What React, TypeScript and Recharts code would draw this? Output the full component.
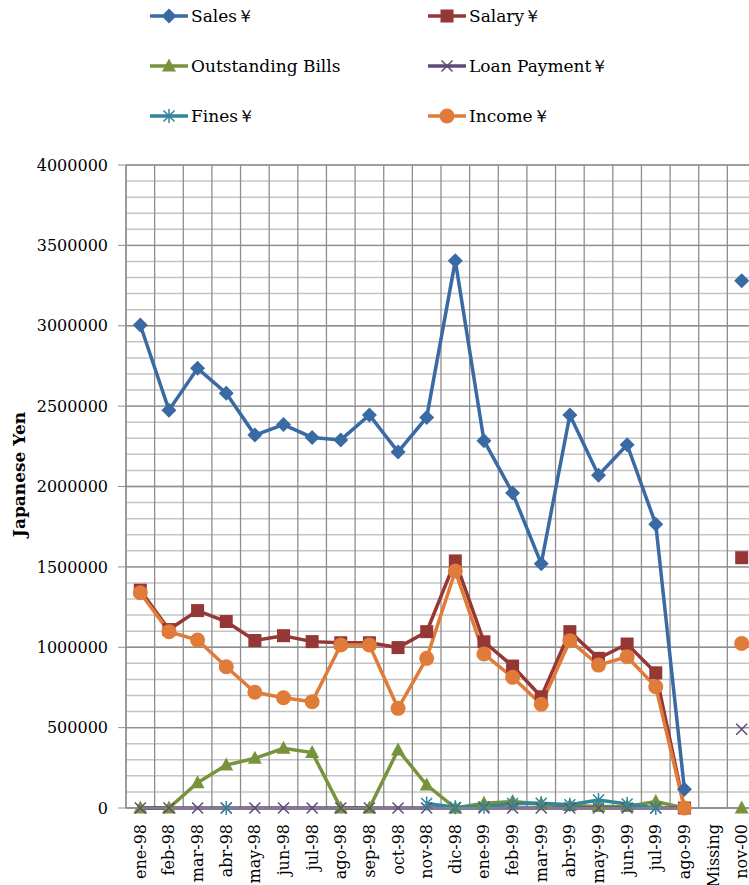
import React from 'react';
import {
  LineChart,
  Line,
  XAxis,
  YAxis,
  CartesianGrid,
  Legend,
} from 'recharts';

const categories = [
  'ene-98', 'feb-98', 'mar-98', 'abr-98', 'may-98', 'jun-98', 'jul-98', 'ago-98',
  'sep-98', 'oct-98', 'nov-98', 'dic-98', 'ene-99', 'feb-99', 'mar-99', 'abr-99',
  'may-99', 'jun-99', 'jul-99', 'ago-99', 'Missing', 'nov-00',
];

const sales = [
  3005000, 2475000, 2735000, 2580000, 2320000, 2385000, 2305000, 2290000,
  2445000, 2215000, 2430000, 3405000, 2285000, 1960000, 1520000, 2445000,
  2070000, 2260000, 1765000, 116000, null, 3280000,
];
const salary = [
  1355000, 1110000, 1228000, 1160000, 1042000, 1072000, 1035000, 1028000,
  1028000, 998000, 1097000, 1537000, 1034000, 883000, 692000, 1097000,
  931000, 1020000, 841000, 0, null, 1557000,
];
const outstandingBills = [
  0, 0, 157000, 267000, 309000, 371000, 345000, 0,
  0, 361000, 143000, 0, 30000, 40000, 25000, 15000,
  10000, 10000, 40000, 0, null, 0,
];
const loanPayment = [
  0, 0, 0, 0, 0, 0, 0, 0,
  0, 0, 0, 0, 0, 0, 0, 0,
  0, 0, 0, 0, null, 490000,
];
const fines = [
  null, null, null, 0, null, null, null, null,
  null, null, 28000, 5000, 8000, 28000, 30000, 20000,
  50000, 25000, 0, null, null, null,
];
const income = [
  1339000, 1097000, 1045000, 879000, 720000, 686000, 661000, 1014000,
  1014000, 620000, 931000, 1474000, 958000, 813000, 645000, 1041000,
  889000, 941000, 754000, 0, null, 1024000,
];

const yTicks = [0, 500000, 1000000, 1500000, 2000000, 2500000, 3000000, 3500000, 4000000];

const data = categories.map((month, i) => ({
  month,
  sales: sales[i],
  salary: salary[i],
  bills: outstandingBills[i],
  loan: loanPayment[i],
  fines: fines[i],
  income: income[i],
}));

const FONT = "'DejaVu Serif', serif";
// plot area is 630px wide (it runs a little past the right edge), one band per category
const HALF_BAND = 630 / categories.length / 2;

const series = [
  { key: 'sales', name: 'Sales￥', color: '#3A6AA3', marker: 'diamond' },
  { key: 'salary', name: 'Salary￥', color: '#953735', marker: 'square' },
  { key: 'bills', name: 'Outstanding Bills', color: '#77933C', marker: 'triangle' },
  { key: 'loan', name: 'Loan Payment￥', color: '#604A7B', marker: 'x' },
  { key: 'fines', name: 'Fines￥', color: '#31859C', marker: 'star' },
  { key: 'income', name: 'Income￥', color: '#E07B39', marker: 'circle' },
];

const Marker = ({ type, x, y, color }: { type: string; x: number; y: number; color: string }) => {
  switch (type) {
    case 'diamond':
      return <path d={`M${x},${y - 7.5}L${x + 7.5},${y}L${x},${y + 7.5}L${x - 7.5},${y}Z`} fill={color} />;
    case 'square':
      return <rect x={x - 6.5} y={y - 6.5} width={13} height={13} fill={color} />;
    case 'triangle':
      return <path d={`M${x},${y - 7.5}L${x + 7},${y + 5.5}L${x - 7},${y + 5.5}Z`} fill={color} />;
    case 'x':
      return (
        <path d={`M${x - 5.5},${y - 5.5}L${x + 5.5},${y + 5.5}M${x + 5.5},${y - 5.5}L${x - 5.5},${y + 5.5}`}
          stroke={color} strokeWidth={1.5} />
      );
    case 'star':
      return (
        <path
          d={`M${x - 5.5},${y - 5.5}L${x + 5.5},${y + 5.5}M${x + 5.5},${y - 5.5}L${x - 5.5},${y + 5.5}M${x},${y - 7}L${x},${y + 7}`}
          stroke={color} strokeWidth={1.5} />
      );
    default:
      return <circle cx={x} cy={y} r={7.5} fill={color} />;
  }
};

const makeDot = (type: string, color: string) => (props: any) => {
  const { cx, cy, index, value } = props;
  if (cx == null || cy == null || value == null) return <g key={`d-${index}`} />;
  return (
    <g key={`d-${index}`}>
      <Marker type={type} x={cx} y={cy} color={color} />
    </g>
  );
};

const XTick = (props: any) => {
  const { x, y, payload } = props;
  return (
    <text
      x={0}
      y={0}
      transform={`translate(${x},${y + 8}) rotate(-90)`}
      textAnchor="end"
      dominantBaseline="central"
      fontFamily={FONT}
      fontSize={16}
      fill="#000"
    >
      {payload.value}
    </text>
  );
};

const YTitle = (props: any) => {
  const { viewBox } = props;
  const cy = viewBox.y + viewBox.height / 2 - 12;
  return (
    <text
      x={0}
      y={0}
      transform={`translate(19,${cy}) rotate(-90)`}
      textAnchor="middle"
      dominantBaseline="central"
      fontFamily={FONT}
      fontWeight="bold"
      fontSize={17}
      fill="#000"
    >
      Japanese Yen
    </text>
  );
};

const LegendBox = () => (
  <div style={{ position: 'relative', width: 749, height: 140, fontFamily: FONT }}>
    {series.map((s, i) => {
      const col = i % 2;
      const row = Math.floor(i / 2);
      return (
        <div
          key={s.key}
          style={{
            position: 'absolute',
            left: 150 + col * 278,
            top: 16 + row * 50 - 11,
            height: 22,
            display: 'flex',
            alignItems: 'center',
            whiteSpace: 'nowrap',
            fontSize: 17,
            color: '#000',
          }}
        >
          <svg width={38} height={18} style={{ marginRight: 3 }}>
            <line x1={0} y1={9} x2={38} y2={9} stroke={s.color} strokeWidth={3.5} />
            <Marker type={s.marker} x={19} y={9} color={s.color} />
          </svg>
          <span>{s.name}</span>
        </div>
      );
    })}
  </div>
);

export default function App() {
  return (
    <div
      style={{
        position: 'fixed',
        top: 0,
        left: 0,
        width: 749,
        height: 885,
        overflow: 'hidden',
        background: '#fff',
      }}
    >
      <LineChart
        width={749}
        height={885}
        data={data}
        margin={{ top: 165, right: -7, bottom: 0, left: 0 }}
        style={{ fontFamily: FONT }}
      >
        <CartesianGrid
          vertical={false}
          stroke="#C4C4C4"
          strokeWidth={1.5}
          horizontalCoordinatesGenerator={({ offset }: any) =>
            Array.from({ length: 41 }, (_, i) => offset.top + (i * offset.height) / 40)
          }
        />
        <CartesianGrid
          stroke="#8E8E8E"
          strokeWidth={1.3}
          verticalCoordinatesGenerator={({ offset }: any) =>
            Array.from({ length: 23 }, (_, i) => offset.left + (i * offset.width) / categories.length)
          }
        />
        <XAxis
          dataKey="month"
          interval={0}
          height={77}
          padding={{ left: HALF_BAND, right: HALF_BAND }}
          tickLine={false}
          axisLine={{ stroke: '#8E8E8E', strokeWidth: 1.3 }}
          tick={<XTick />}
        />
        <YAxis
          domain={[0, 4000000]}
          ticks={yTicks}
          width={126}
          tickSize={8}
          tickMargin={10}
          tickLine={{ stroke: '#8E8E8E' }}
          axisLine={{ stroke: '#8E8E8E', strokeWidth: 1.3 }}
          tick={{ fontSize: 16, fill: '#000', fontFamily: FONT }}
          label={<YTitle />}
        />
        <Legend
          layout="horizontal"
          verticalAlign="middle"
          align="center"
          wrapperStyle={{ position: 'absolute', top: 0, left: 0, width: 749 }}
          content={() => <LegendBox />}
        />
        {series.map((s) => (
          <Line
            key={s.key}
            type="linear"
            dataKey={s.key}
            name={s.name}
            stroke={s.color}
            strokeWidth={3.5}
            dot={makeDot(s.marker, s.color)}
            activeDot={false}
            connectNulls={false}
            isAnimationActive={false}
          />
        ))}
      </LineChart>
    </div>
  );
}
